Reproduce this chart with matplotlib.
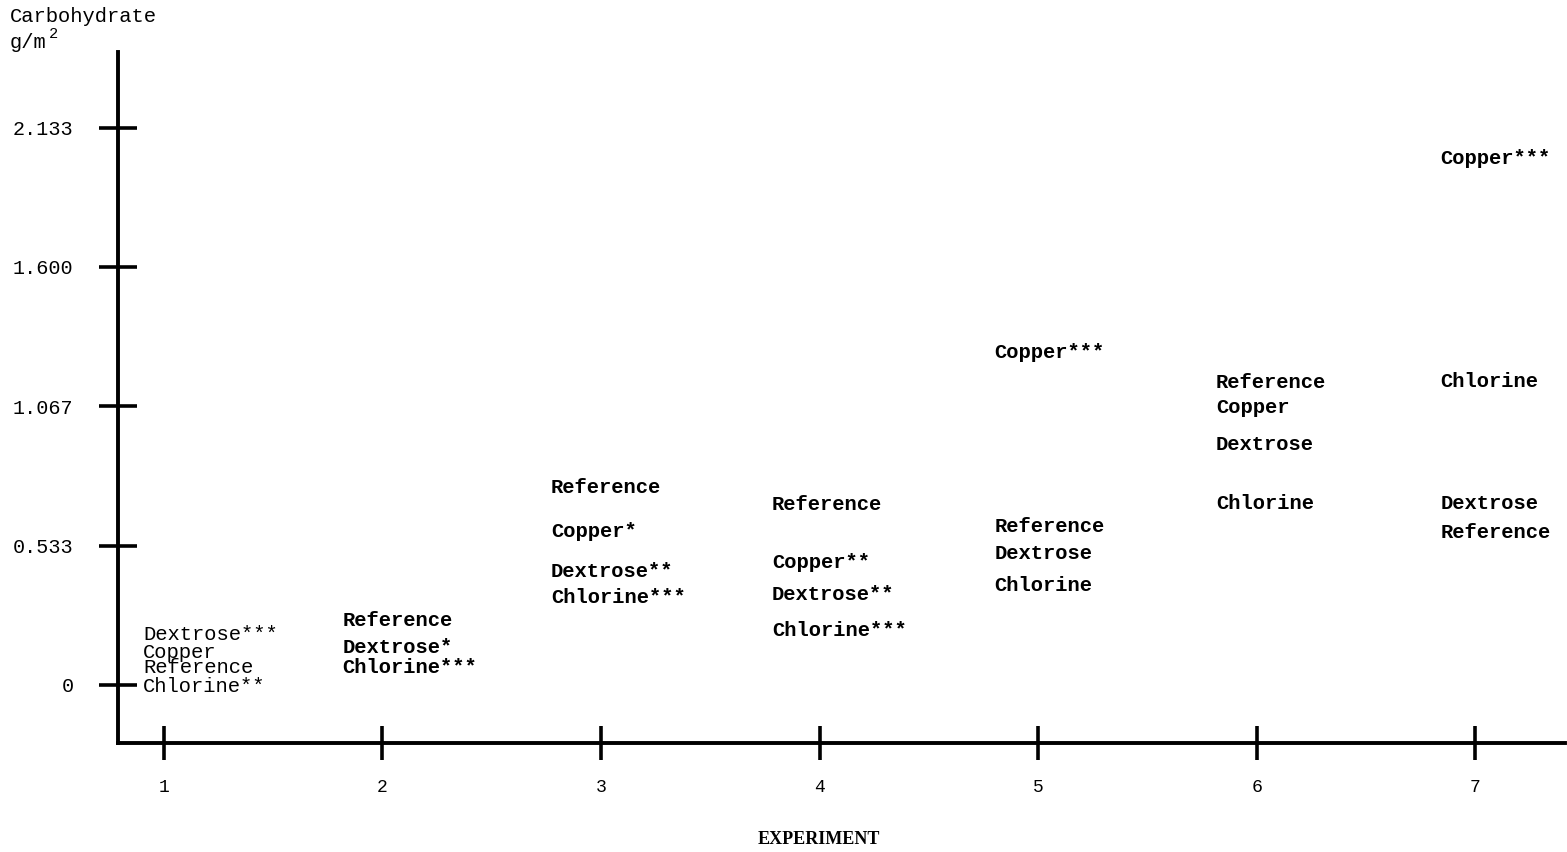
import matplotlib
matplotlib.use("Agg")
import matplotlib.pyplot as plt

# Data: label text, experiment number, carbohydrate value (g/m^2)
exp1_labels = ["Dextrose***", "Copper", "Reference", "Chlorine**"]
exp1_values = [0.195, 0.126, 0.065, -0.004]
exp2_labels = ["Reference", "Dextrose*", "Chlorine***"]
exp2_values = [0.245, 0.145, 0.065]
exp3_labels = ["Reference", "Copper*", "Dextrose**", "Chlorine***"]
exp3_values = [0.754, 0.589, 0.436, 0.333]
exp4_labels = ["Reference", "Copper**", "Dextrose**", "Chlorine***"]
exp4_values = [0.689, 0.467, 0.348, 0.210]
exp5_labels = ["Copper***", "Reference", "Dextrose", "Chlorine"]
exp5_values = [1.274, 0.608, 0.505, 0.379]
exp6_labels = ["Reference", "Copper", "Dextrose", "Chlorine"]
exp6_values = [1.159, 1.060, 0.922, 0.693]
exp7_labels = ["Copper***", "Chlorine", "Dextrose", "Reference"]
exp7_values = [2.016, 1.163, 0.693, 0.585]

experiments = [1, 2, 3, 4, 5, 6, 7]
yticks = [0, 0.533, 1.067, 1.600, 2.133]
ytick_labels = ["0", "0.533", "1.067", "1.600", "2.133"]

groups = [
    (1, exp1_labels, exp1_values),
    (2, exp2_labels, exp2_values),
    (3, exp3_labels, exp3_values),
    (4, exp4_labels, exp4_values),
    (5, exp5_labels, exp5_values),
    (6, exp6_labels, exp6_values),
    (7, exp7_labels, exp7_values),
]
# label left offset relative to each tick (in experiment units)
offsets = [-0.096, -0.183, -0.229, -0.219, -0.201, -0.187, -0.160]
weights = ["normal", "bold", "bold", "bold", "bold", "bold", "bold"]

mono = "Liberation Mono"

fig = plt.figure(figsize=(15.67, 8.52), dpi=100)
ax = fig.add_axes([118 / 1567, (852 - 743) / 852, (1565 - 118) / 1567, (743 - 52) / 852])
ax.set_xlim(0.79, 7.41)
ax.set_ylim(-0.222, 2.422)

for sp in ["top", "right"]:
    ax.spines[sp].set_visible(False)
for sp in ["left", "bottom"]:
    ax.spines[sp].set_linewidth(2.8)
    ax.spines[sp].set_color("black")

ax.set_xticks(experiments)
ax.set_xticklabels([str(e) for e in experiments], fontfamily=mono, fontsize=13)
ax.set_yticks(yticks)
ax.set_yticklabels(ytick_labels, fontfamily=mono, fontsize=14.5)
ax.tick_params(axis="y", direction="inout", length=28, width=2.6, pad=18)
ax.tick_params(axis="x", direction="inout", length=24, width=2.6, pad=14)

for (e, labels, values), off, w in zip(groups, offsets, weights):
    for lab, v in zip(labels, values):
        ax.text(e + off, v, lab, fontfamily=mono, fontsize=14.8, fontweight=w,
                ha="left", va="center", color="black")

fig.text(10 / 1567, 1 - 17 / 852, "Carbohydrate", fontfamily=mono, fontsize=14.8,
         ha="left", va="center")
fig.text(10 / 1567, 1 - 42 / 852, "g/m", fontfamily=mono, fontsize=14.8,
         ha="left", va="center")
fig.text(49 / 1567, 1 - 34 / 852, "2", fontfamily=mono, fontsize=11,
         ha="left", va="center")
fig.text(819 / 1567, 1 - 840 / 852, "EXPERIMENT", fontfamily="Liberation Serif",
         fontweight="bold", fontsize=13, ha="center", va="center")

fig.savefig("out.png", dpi=100)
